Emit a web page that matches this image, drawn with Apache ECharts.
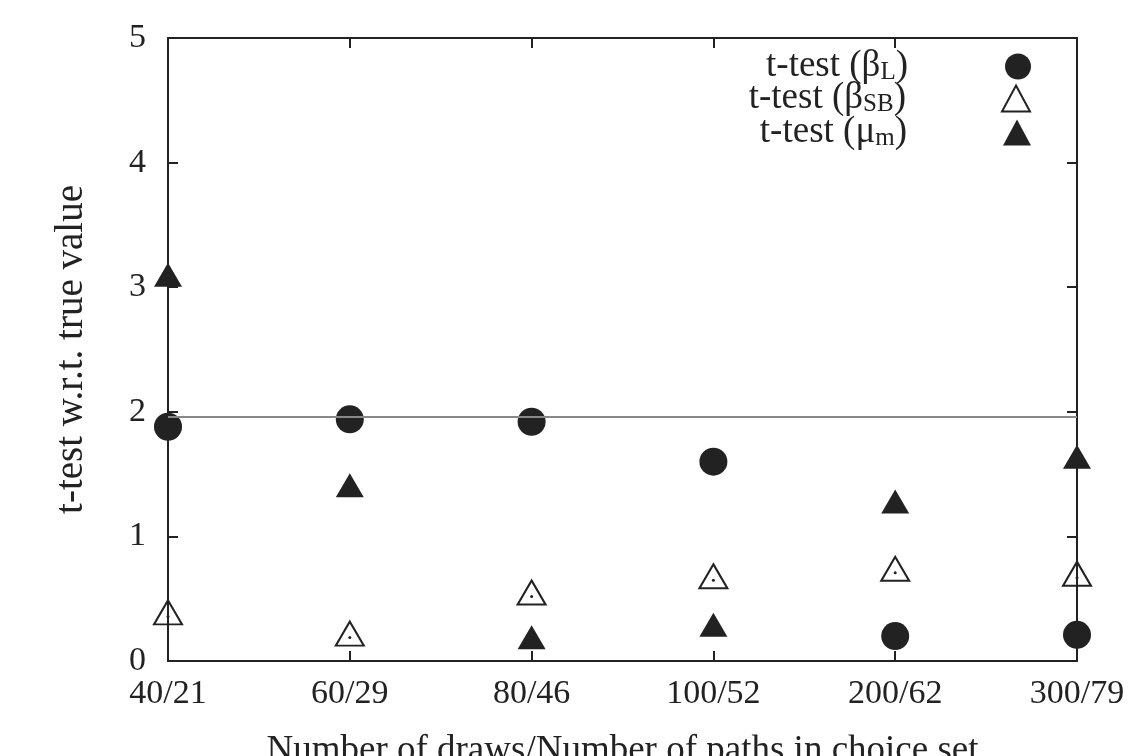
<!DOCTYPE html>
<html>
<head>
<meta charset="utf-8">
<script src="https://cdn.jsdelivr.net/npm/echarts@6/dist/echarts.min.js"></script>
<style>
  html, body { margin: 0; padding: 0; background: #fff; }
  #main { width: 1142px; height: 756px; }
</style>
</head>
<body>
<div id="main"></div>
<script>
// categories: draws / paths
var categories = ['40/21', '60/29', '80/46', '100/52', '200/62', '300/79'];
// t-test values
var betaL = [1.88, 1.94, 1.92, 1.60, 0.20, 0.21];
var betaSB = [0.39, 0.22, 0.55, 0.68, 0.74, 0.70];
var muM = [3.10, 1.41, 0.19, 0.29, 1.28, 1.64];
var critValue = 1.96;
var yTicks = [0, 1, 2, 3, 4, 5];

var ink = '#222';
var font = '"Liberation Serif", "DejaVu Serif", serif';

// legend text pieces (name -> [main, subscript])
var legendText = {
    't-test (βL)': ['t-test (β', 'L'],
    't-test (βSB)': ['t-test (β', 'SB'],
    't-test (μm)': ['t-test (μ', 'm']
};

function legendFmt(name) {
    var p = legendText[name];
    return '{t|' + p[0] + '}{s|' + p[1] + '}{t|)}{g|}';
}

var legendRich = {
    t: { fontFamily: font, fontSize: 37, color: ink, lineHeight: 36 },
    s: { fontFamily: font, fontSize: 25, color: ink, lineHeight: 36, verticalAlign: 'bottom', padding: [10, 0, 0, 0] },
    g: { width: 91 }
};

function makeLegend(name, top) {
    return {
        data: [name],
        right: 111,
        top: top,
        padding: 0,
        align: 'right',
        itemWidth: 28,
        itemHeight: 26,
        selectedMode: false,
        formatter: legendFmt,
        textStyle: { fontFamily: font, fontSize: 37, color: ink, rich: legendRich }
    };
}

var myChart = echarts.init(document.getElementById('main'));

var axisLineStyle = { color: ink, width: 2 };

var option = {
    backgroundColor: '#fff',
    animation: false,
    textStyle: { fontFamily: font },
    grid: { left: 168, right: 65, top: 38, bottom: 95, containLabel: false, outerBoundsMode: 'none' },
    legend: [
        makeLegend('t-test (βL)', 48),
        makeLegend('t-test (βSB)', 80),
        makeLegend('t-test (μm)', 114)
    ],
    xAxis: [{
        type: 'category',
        data: categories,
        boundaryGap: false,
        name: 'Number of draws/Number of paths in choice set',
        nameLocation: 'middle',
        nameGap: 72,
        nameTextStyle: { fontFamily: font, fontSize: 37, color: ink },
        axisLine: { onZero: false, lineStyle: axisLineStyle },
        axisTick: { show: true, inside: true, length: 10, lineStyle: axisLineStyle },
        axisLabel: { fontFamily: font, fontSize: 34, color: ink, margin: 16 },
        splitLine: { show: false }
    }, {
        type: 'category',
        data: categories,
        boundaryGap: false,
        position: 'top',
        axisLine: { show: true, onZero: false, lineStyle: axisLineStyle },
        axisTick: { show: true, inside: true, length: 10, interval: 0, lineStyle: axisLineStyle },
        axisLabel: { show: false },
        splitLine: { show: false }
    }],
    yAxis: [{
        type: 'value',
        min: yTicks[0],
        max: yTicks[yTicks.length - 1],
        interval: 1,
        name: 't-test w.r.t. true value',
        nameLocation: 'middle',
        nameGap: 77,
        nameTextStyle: { fontFamily: font, fontSize: 39, color: ink },
        axisLine: { show: true, onZero: false, lineStyle: axisLineStyle },
        axisTick: { show: true, inside: true, length: 10, lineStyle: axisLineStyle },
        axisLabel: { fontFamily: font, fontSize: 34, color: ink, margin: 22 },
        splitLine: { show: false }
    }, {
        type: 'value',
        min: yTicks[0],
        max: yTicks[yTicks.length - 1],
        interval: 1,
        position: 'right',
        axisLine: { show: true, onZero: false, lineStyle: axisLineStyle },
        axisTick: { show: true, inside: true, length: 10, lineStyle: axisLineStyle },
        axisLabel: { show: false },
        splitLine: { show: false }
    }],
    series: [{
        name: 't-test (βL)',
        type: 'scatter',
        data: betaL,
        symbol: 'circle',
        symbolSize: 28,
        itemStyle: { color: ink, opacity: 1 },
        markLine: {
            silent: true,
            symbol: 'none',
            label: { show: false },
            lineStyle: { color: '#888', width: 2, type: 'solid' },
            data: [{ yAxis: critValue }]
        }
    }, {
        name: 't-test (βSB)',
        type: 'scatter',
        data: betaSB,
        symbol: 'triangle',
        symbolSize: [28, 24],
        itemStyle: { color: 'rgba(0,0,0,0)', borderColor: ink, borderWidth: 2, opacity: 1 }
    }, {
        // centre dot of the open triangles, on the mirrored axes
        name: 'sb-dot',
        type: 'scatter',
        xAxisIndex: 1,
        yAxisIndex: 1,
        data: betaSB,
        symbol: 'circle',
        symbolSize: 3,
        symbolOffset: [0, 4],
        silent: true,
        itemStyle: { color: ink, opacity: 1 }
    }, {
        name: 't-test (μm)',
        type: 'scatter',
        data: muM,
        symbol: 'triangle',
        symbolSize: [28, 24],
        itemStyle: { color: ink, opacity: 1 }
    }]
};

myChart.setOption(option);
</script>
</body>
</html>
